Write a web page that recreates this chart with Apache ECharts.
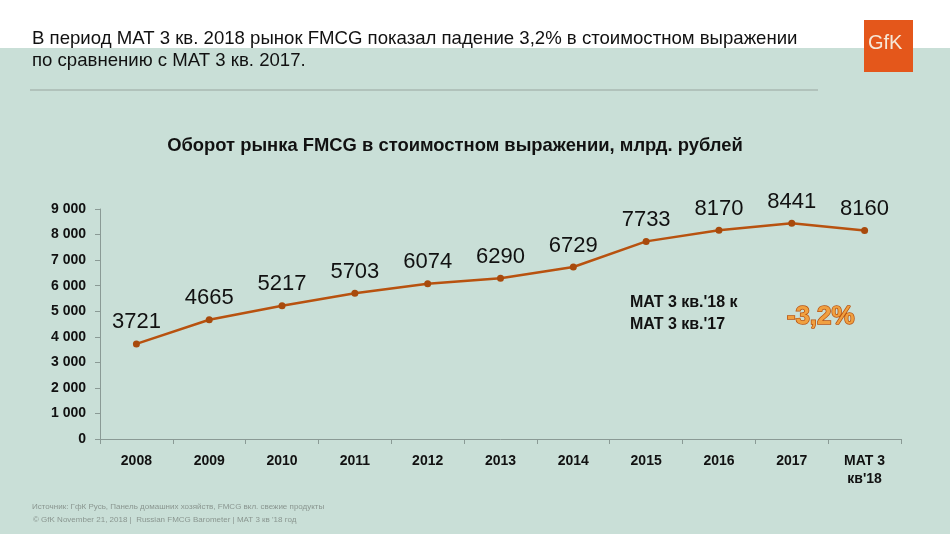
<!DOCTYPE html>
<html lang="ru">
<head>
    <meta charset="UTF-8">
    <title>FMCG</title>
    <script src="https://cdn.jsdelivr.net/npm/echarts@6/dist/echarts.min.js"></script>
    <style>
        html, body { margin: 0; padding: 0; background: #c9dfd7; }
        #main { width: 950px; height: 534px; }
    </style>
</head>
<body>
<div id="main"></div>
<script type="text/javascript">
// данные
var years = ['2008', '2009', '2010', '2011', '2012', '2013', '2014', '2015', '2016', '2017', 'MAT 3\nкв\'18'];
var turnover = [3721, 4665, 5217, 5703, 6074, 6290, 6729, 7733, 8170, 8441, 8160];
var yTicks = [0, 1000, 2000, 3000, 4000, 5000, 6000, 7000, 8000, 9000];

var myChart = echarts.init(document.getElementById('main'));
myChart.setOption({
    backgroundColor: '#c9dfd7',
    animation: false,
    title: {
        text: 'Оборот рынка FMCG в стоимостном выражении, млрд. рублей',
        left: 450,
        textAlign: 'center',
        top: 132,
        textStyle: { fontFamily: 'Arial', fontSize: 18.4, fontWeight: 'bold', color: '#111' }
    },
    grid: { left: 100, right: 49, top: 209, bottom: 95 },
    xAxis: {
        type: 'category',
        data: years,
        boundaryGap: true,
        axisLine: { lineStyle: { color: '#8a9a95' } },
        axisTick: { show: true, lineStyle: { color: '#8a9a95' } },
        axisLabel: {
            fontFamily: 'Arial', fontSize: 14, fontWeight: 'bold', color: '#111',
            margin: 13, lineHeight: 18, interval: 0
        }
    },
    yAxis: {
        type: 'value',
        min: yTicks[0],
        max: yTicks[yTicks.length - 1],
        interval: 1000,
        splitLine: { show: false },
        axisLine: { show: true, lineStyle: { color: '#8a9a95' } },
        axisTick: { show: true, lineStyle: { color: '#8a9a95' } },
        axisLabel: {
            fontFamily: 'Arial', fontSize: 14, fontWeight: 'bold', color: '#111', margin: 14,
            formatter: function (v) { return v === 0 ? '0' : (v / 1000) + ' 000'; }
        }
    },
    series: [{
        type: 'line',
        data: turnover,
        symbol: 'circle',
        symbolSize: 7,
        lineStyle: { color: '#b8520f', width: 2.5 },
        itemStyle: { color: '#a84a0c' },
        label: {
            show: true, position: 'top', distance: 7,
            fontFamily: 'Arial', fontSize: 22, color: '#111'
        }
    }],
    graphic: [
        { type: 'rect', shape: { x: 0, y: 0, width: 950, height: 48 }, style: { fill: '#ffffff' }, z: -1 },
        { type: 'text', left: 32, top: 28, style: {
            text: 'В период MAT 3 кв. 2018 рынок FMCG показал падение 3,2% в стоимостном выражении\nпо сравнению с MAT 3 кв. 2017.',
            font: '18.6px Arial', fill: '#111', lineHeight: 22 } },
        { type: 'line', shape: { x1: 30, y1: 90, x2: 818, y2: 90 }, style: { stroke: '#a8b8b2', lineWidth: 1.5 } },
        { type: 'rect', shape: { x: 864, y: 20, width: 49, height: 52 }, style: { fill: '#e4571b' } },
        { type: 'text', left: 868, top: 33, style: { text: 'GfK', font: '20px Arial', fill: '#f6e8d8' } },
        { type: 'text', left: 630, top: 292, style: {
            text: 'MAT 3 кв.\'18 к\nMAT 3 кв.\'17', font: 'bold 16px Arial', fill: '#111', lineHeight: 22 } },
        { type: 'text', left: 786, top: 303, style: {
            text: '-3,2%', font: 'bold 26px Arial', fill: '#f0a040', stroke: '#b8520f', lineWidth: 1.5 } },
        { type: 'text', left: 32, top: 503, style: {
            text: 'Источник: ГфК Русь, Панель домашних хозяйств, FMCG вкл. свежие продукты',
            font: '8px Arial', fill: '#8a9690' } },
        { type: 'text', left: 33, top: 516, style: {
            text: '© GfK November 21, 2018 |  Russian FMCG Barometer | MAT 3 кв \'18 год',
            font: '8px Arial', fill: '#8a9690' } }
    ]
});
</script>
</body>
</html>
